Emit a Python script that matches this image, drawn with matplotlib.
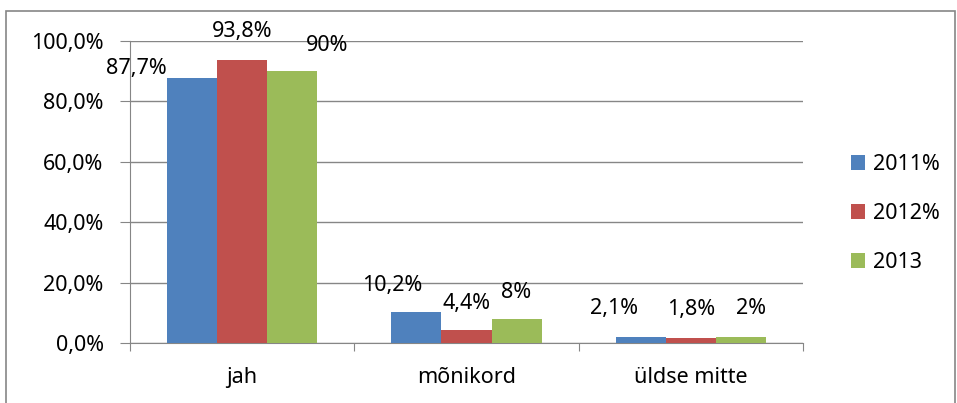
import matplotlib
matplotlib.use("Agg")
import matplotlib.pyplot as plt
import numpy as np
from matplotlib.patches import Rectangle

plt.rcParams['font.family'] = ['Noto Sans', 'DejaVu Sans']

# Datos
categorias = ["jah", "mõnikord", "üldse mitte"]
series = ["2011%", "2012%", "2013"]
v2011 = [87.7, 10.2, 2.1]
v2012 = [93.8, 4.4, 1.8]
v2013 = [90.0, 8.0, 2.0]
etiquetas2011 = ["87,7%", "10,2%", "2,1%"]
etiquetas2012 = ["93,8%", "4,4%", "1,8%"]
etiquetas2013 = ["90%", "8%", "2%"]
yticks = [0, 20, 40, 60, 80, 100]

colores = ["#4F81BD", "#C0504D", "#9BBB59"]
# desplazamientos de las etiquetas (px) como en la hoja original
desp = [
    [(-56, 10), (-24, 27), (-27, 28)],
    [(0, 28), (0, 26), (0, 28)],
    [(35, 26), (0, 26), (10, 28)],
]
fs = 15.5

fig = plt.figure(figsize=(9.57, 4.03), dpi=100)
ax = fig.add_axes([130 / 957, 60 / 403, 673 / 957, 302 / 403])

x = np.arange(len(categorias))
ancho = 0.223
valores = [v2011, v2012, v2013]
etiquetas = [etiquetas2011, etiquetas2012, etiquetas2013]
for i, (vals, et) in enumerate(zip(valores, etiquetas)):
    pos = x + (i - 1) * ancho
    ax.bar(pos, vals, width=ancho, color=colores[i], label=series[i], zorder=3)
    for j in range(len(vals)):
        dx, dy = desp[i][j]
        ax.annotate(et[j], (pos[j], vals[j]), xytext=(dx * 0.72, dy * 0.72),
                    textcoords="offset points", ha="center", va="center",
                    fontsize=fs, color="black", zorder=4)

ax.set_xlim(-0.5, 2.5)
ax.set_ylim(0, 100)
ax.set_yticks(yticks)
ax.set_yticklabels([f"{t:.1f}%".replace(".", ",") for t in yticks], fontsize=fs)
ax.yaxis.grid(True, color="#868686", linewidth=1, zorder=0)
ax.tick_params(axis="y", length=7, color="#868686", pad=12)

ax.set_xticks([-0.5, 0.5, 1.5, 2.5])
ax.set_xticklabels([])
ax.tick_params(axis="x", which="major", length=6, color="#868686")
ax.set_xticks(x, minor=True)
ax.set_xticklabels(categorias, minor=True, fontsize=fs)
ax.tick_params(axis="x", which="minor", length=0, pad=17)

for s in ["top", "right"]:
    ax.spines[s].set_visible(False)
for s in ["left", "bottom"]:
    ax.spines[s].set_color("#868686")

fig.legend(loc="center left", bbox_to_anchor=(832 / 957, 0.47), frameon=False,
           fontsize=fs, handlelength=0.65, handleheight=0.65, handletextpad=0.35,
           labelspacing=1.3)

fig.patches.append(Rectangle((6 / 957, -0.01), 949 / 957, 1 - 11 / 403 + 0.01,
                             transform=fig.transFigure, fill=False,
                             edgecolor="#868686", linewidth=1.2))

fig.savefig("out.png", dpi=100)
